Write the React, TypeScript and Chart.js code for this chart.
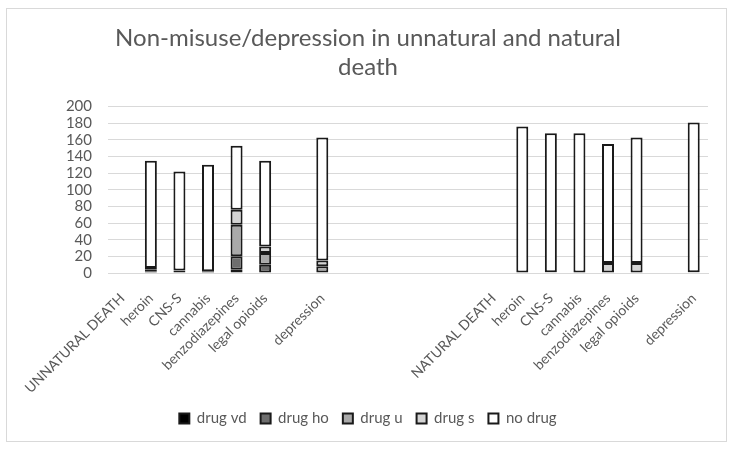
import React, { useEffect, useRef } from "react";
import { Chart, registerables } from "chart.js";

Chart.register(...registerables);

const categories = [
  "UNNATURAL DEATH", "heroin", "CNS-S", "cannabis", "benzodiazepines", "legal opioids", "", "depression",
  "", "", "", "", "",
  "NATURAL DEATH", "heroin", "CNS-S", "cannabis", "benzodiazepines", "legal opioids", "", "depression",
];

const drugVd = [null, null, 3, 2, 4, null, null, null, null, null, null, null, null, null, null, null, null, null, null, null, null];
const drugHo = [null, 2, null, null, 16, 10, null, null, null, null, null, null, null, null, null, null, null, null, null, null, null];
const drugU = [null, 2, null, null, 38, 14, null, 8, null, null, null, null, null, null, null, 1, null, null, null, null, 1];
const drugS = [null, 2, null, null, 18, 8, null, 7, null, null, null, null, null, null, null, null, null, 12, 12, null, null];
const noDrug = [null, 129, 119, 128, 77, 103, null, 148, null, null, null, null, null, null, 176, 167, 168, 143, 151, null, 180];

const seriesNames = ["drug vd", "drug ho", "drug u", "drug s", "no drug"];
const seriesColors = ["#000000", "#6e6e6e", "#a9a9a9", "#d4d4d4", "#ffffff"];
const yTicks = [0, 20, 40, 60, 80, 100, 120, 140, 160, 180, 200];

export default function App() {
  const ref = useRef<HTMLCanvasElement>(null);
  useEffect(() => {
    if (!ref.current) return;
    const seriesData = [drugVd, drugHo, drugU, drugS, noDrug];
    const chart = new Chart(ref.current, {
      type: "bar",
      data: {
        labels: categories,
        datasets: seriesNames.map((name, i) => ({
          label: name,
          data: seriesData[i],
          backgroundColor: seriesColors[i],
          borderColor: "#1a1a1a",
          borderWidth: 2,
          borderSkipped: false,
          categoryPercentage: 1,
          barPercentage: 0.42,
        })),
      },
      options: {
        animation: false,
        responsive: false,
        maintainAspectRatio: false,
        layout: { padding: { left: 28, right: 28, top: 8, bottom: 15 } },
        plugins: {
          title: {
            display: true,
            text: ["Non-misuse/depression in unnatural and natural", "death"],
            color: "#595959",
            font: { family: "Lato", size: 24, weight: "normal" },
            padding: { top: 16, bottom: 25 },
            lineHeight: 1.2,
          },
          legend: {
            position: "bottom",
            labels: {
              color: "#595959",
              font: { family: "Lato", size: 15 },
              boxWidth: 10,
              boxHeight: 10,
              padding: 14,
            },
          },
          tooltip: { enabled: false },
        },
        scales: {
          x: {
            stacked: true,
            grid: { display: false },
            border: { display: true, color: "#d9d9d9", width: 1 },
            afterFit: (scale: any) => {
              scale.height = 124;
            },
            ticks: {
              autoSkip: false,
              maxRotation: 45,
              minRotation: 45,
              color: "#595959",
              font: { family: "Lato", size: 14 },
              padding: 9,
            },
          },
          y: {
            stacked: true,
            min: 0,
            max: 200,
            afterBuildTicks: (axis: any) => {
              axis.ticks = yTicks.map((v) => ({ value: v }));
            },
            afterFit: (scale: any) => {
              scale.width = 80;
            },
            grid: { color: "#d9d9d9", lineWidth: 1, drawTicks: false },
            border: { display: false },
            ticks: {
              autoSkip: false,
              color: "#595959",
              font: { family: "Lato", size: 15 },
              padding: 16,
            },
          },
        },
      },
    });
    return () => chart.destroy();
  }, []);
  return (
    <div style={{ position: "fixed", left: 0, top: 0, width: 736, height: 451, background: "#fff" }}>
      <div
        style={{
          position: "absolute",
          left: 6,
          top: 8,
          width: 721,
          height: 434,
          border: "1px solid #d9d9d9",
          boxSizing: "border-box",
        }}
      />
      <canvas ref={ref} width={736} height={451} style={{ position: "absolute", left: 0, top: 0 }} />
    </div>
  );
}
